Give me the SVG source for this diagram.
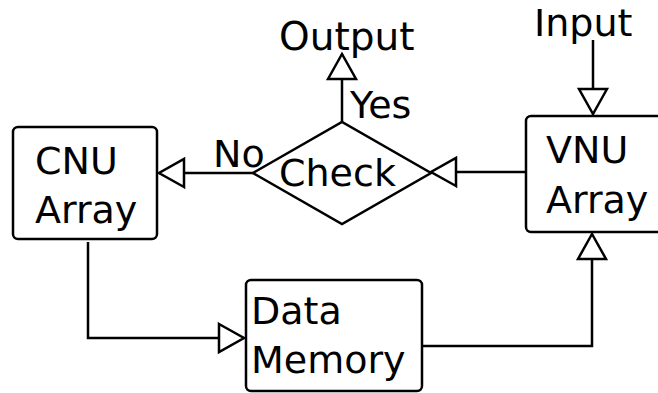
<svg xmlns="http://www.w3.org/2000/svg" width="658" height="393" viewBox="0 0 658 393">
  <style>
    .box { fill: #ffffff; stroke: #000000; stroke-width: 2.5; }
    .edge { fill: none; stroke: #000000; stroke-width: 2.5; }
    text { font-family: "DejaVu Sans", "Liberation Sans", sans-serif; font-size: 38px; fill: #000000; }
  </style>
  <defs>
    <marker id="tri" markerUnits="userSpaceOnUse" markerWidth="30" markerHeight="32" refX="25" refY="14" orient="auto" overflow="visible">
      <path d="M0,0 L25,14 L0,28 Z" fill="#ffffff" stroke="#000000" stroke-width="2.5" stroke-linejoin="miter"/>
    </marker>
  </defs>
  <rect width="658" height="393" fill="#ffffff"/>
  <g id="connectors">
    <path class="edge" d="M253,173 H159" marker-end="url(#tri)"/>
    <path class="edge" d="M526,172 H431" marker-end="url(#tri)"/>
    <path class="edge" d="M342,122 V54" marker-end="url(#tri)"/>
    <path class="edge" d="M593,40 V114" marker-end="url(#tri)"/>
    <path class="edge" d="M88,242 V338 H244" marker-end="url(#tri)"/>
    <path class="edge" d="M422,346 H592 V234" marker-end="url(#tri)"/>
  </g>
  <g id="cnu">
    <rect class="box" x="13" y="127" width="144" height="112" rx="5"/>
    <text x="35" y="174">CNU</text>
    <text x="35" y="223">Array</text>
  </g>
  <g id="vnu">
    <rect class="box" x="526" y="116" width="150" height="116" rx="5"/>
    <text x="546" y="163">VNU</text>
    <text x="546" y="213">Array</text>
  </g>
  <g id="check">
    <polygon class="box" points="253,173 342,122 431,173 342,224"/>
    <text x="279" y="186">Check</text>
  </g>
  <g id="memory">
    <rect class="box" x="246" y="280" width="176" height="111" rx="5"/>
    <text x="251" y="324">Data</text>
    <text x="251" y="373">Memory</text>
  </g>
  <g id="output">
    <text x="279" y="50" style="font-size:39px">Output</text>
  </g>
  <g id="input">
    <text x="534" y="36">Input</text>
  </g>
  <g id="labels">
    <text x="350" y="118">Yes</text>
    <text x="213" y="167">No</text>
  </g>
</svg>
